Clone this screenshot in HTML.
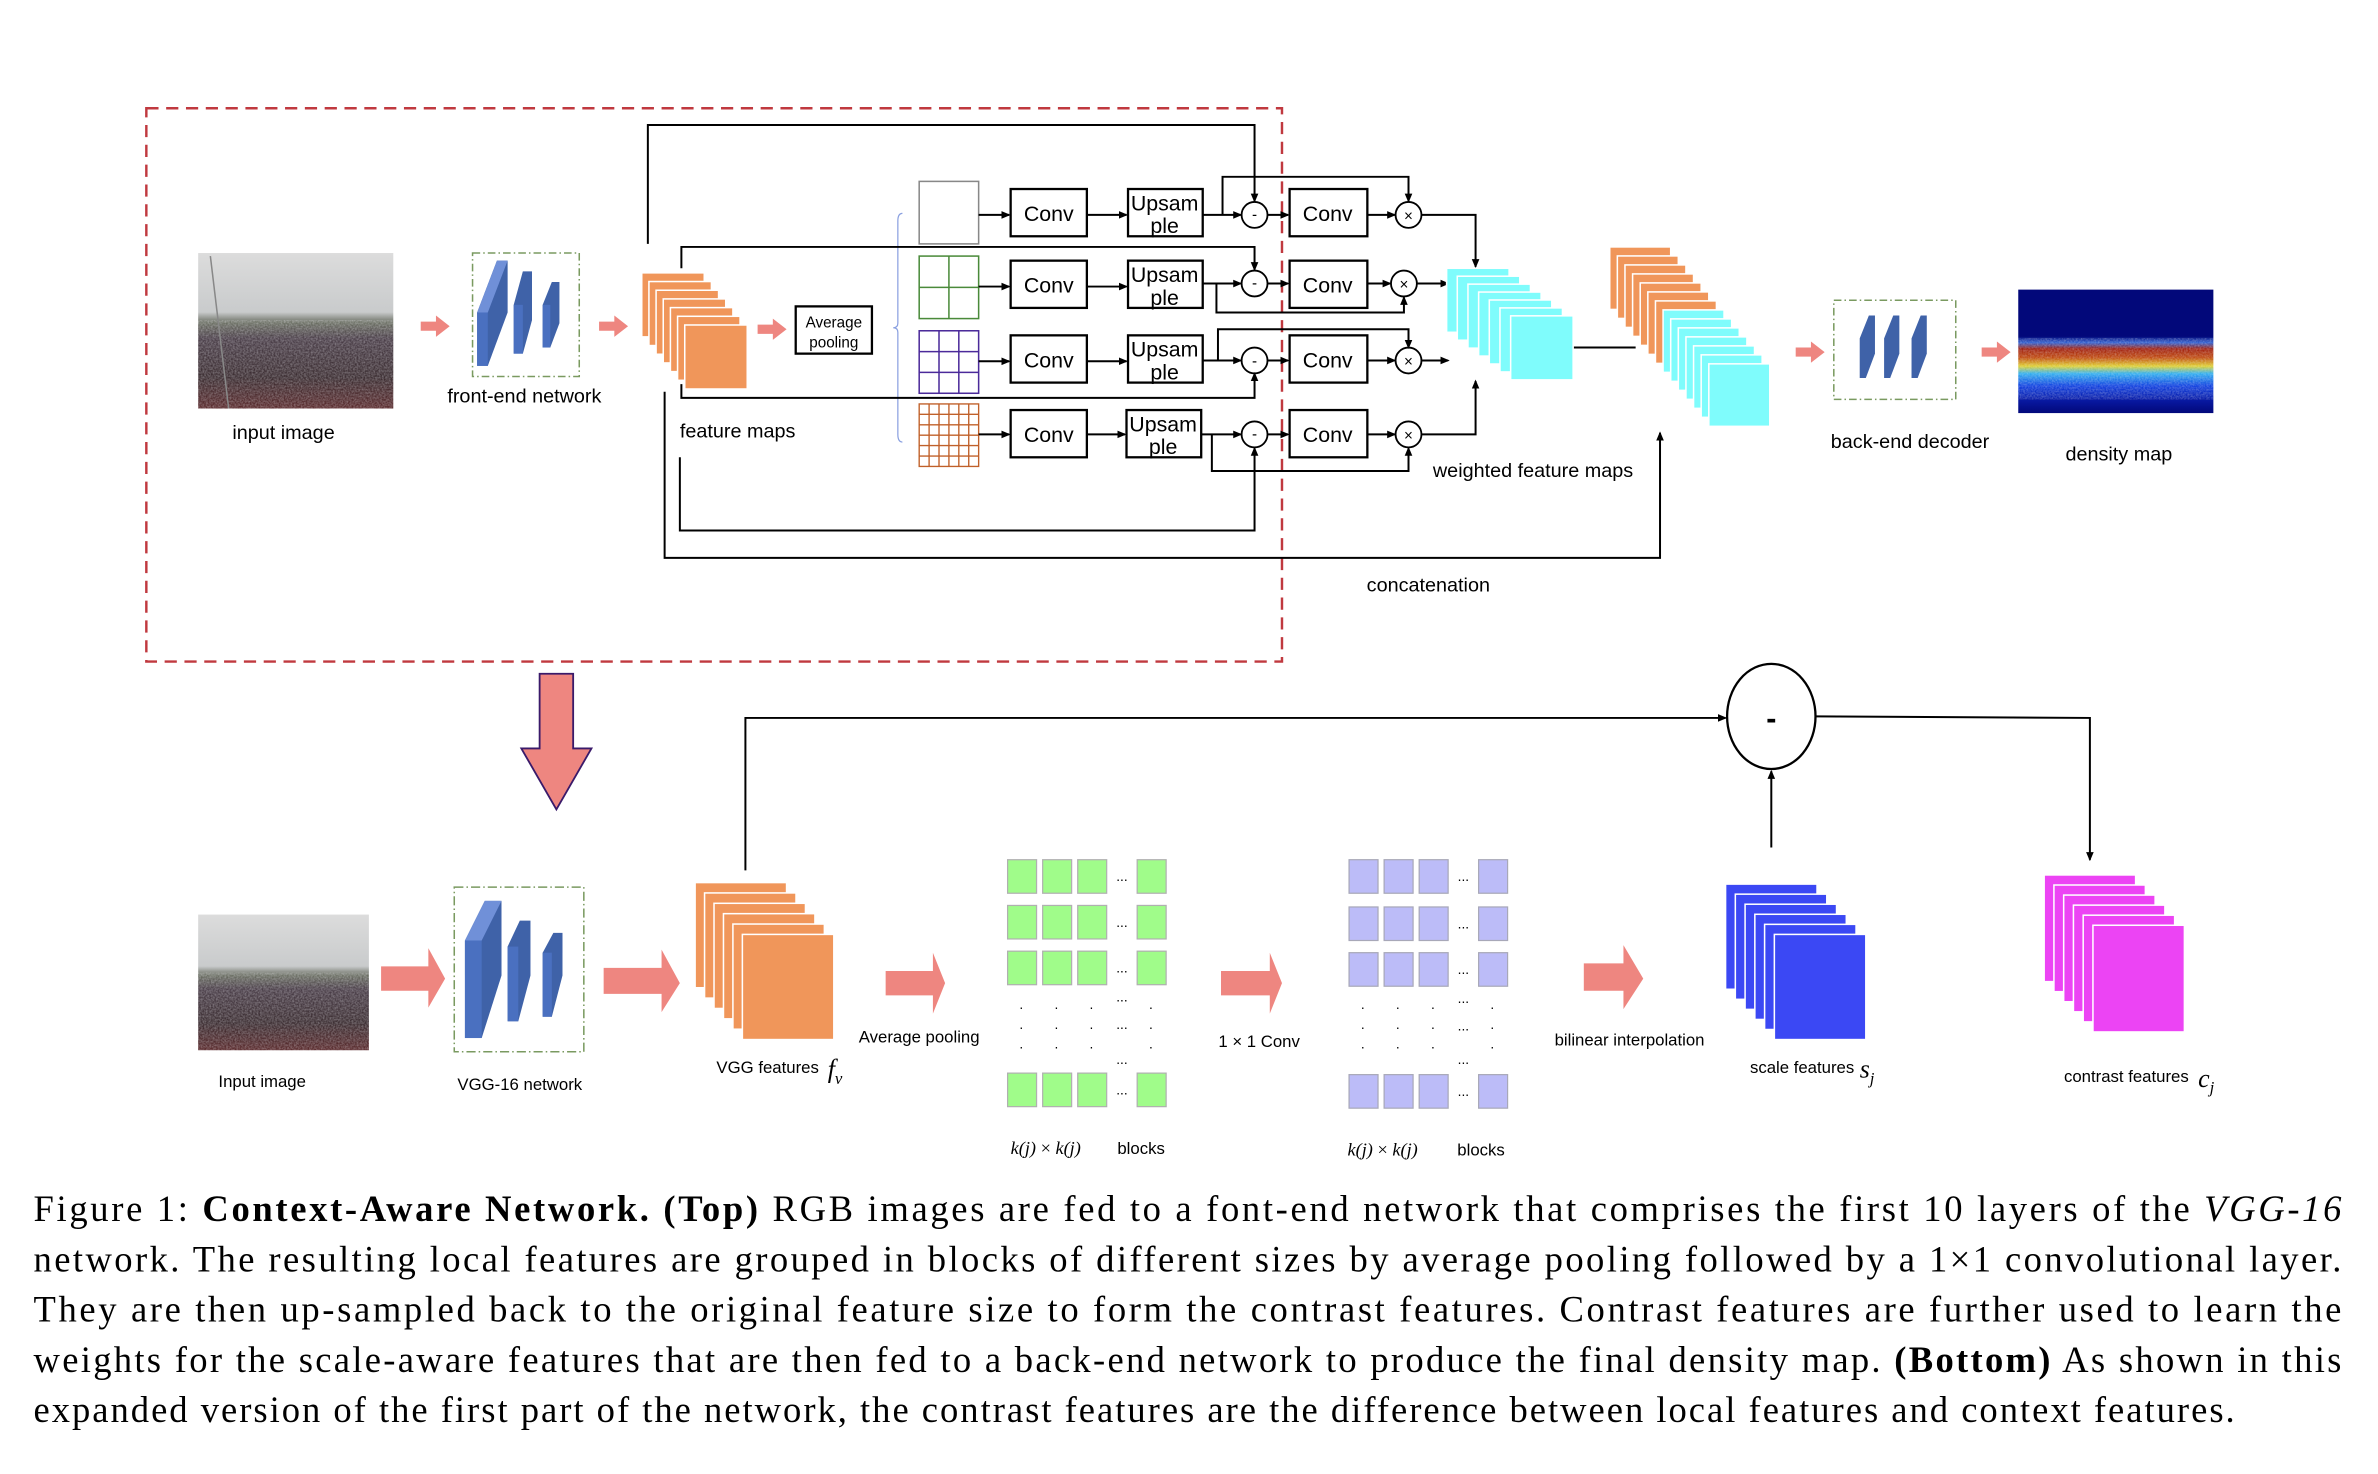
<!DOCTYPE html>
<html><head><meta charset="utf-8"><style>html,body{margin:0;padding:0;background:#fff}svg{display:block}</style></head>
<body>
<svg width="2378" height="1474" viewBox="0 0 1560 967" preserveAspectRatio="none" xmlns="http://www.w3.org/2000/svg" font-family="Liberation Sans, sans-serif">
<defs>
<marker id="ah" markerWidth="6" markerHeight="6" refX="5" refY="3" orient="auto" markerUnits="userSpaceOnUse"><path d="M0,0.5 L6,3 L0,5.5 z" fill="#000"/></marker>
<linearGradient id="crowd" x1="0" y1="0" x2="0" y2="1">
<stop offset="0" stop-color="#dcdcdc"/><stop offset="0.38" stop-color="#c9cbcc"/><stop offset="0.45" stop-color="#6a6e62"/><stop offset="0.55" stop-color="#4a3e48"/><stop offset="0.8" stop-color="#3b2d31"/><stop offset="1" stop-color="#5a2a2c"/></linearGradient>
<linearGradient id="dens" x1="0" y1="0" x2="0" y2="1">
<stop offset="0" stop-color="#02087a"/><stop offset="0.38" stop-color="#02087a"/><stop offset="0.43" stop-color="#3060d0"/><stop offset="0.48" stop-color="#a02010"/><stop offset="0.55" stop-color="#c04a10"/><stop offset="0.62" stop-color="#e0d030"/><stop offset="0.68" stop-color="#30b0f0"/><stop offset="0.78" stop-color="#1040e0"/><stop offset="0.9" stop-color="#0818a0"/><stop offset="1" stop-color="#02087a"/></linearGradient>
<filter id="noise" x="0" y="0" width="1" height="1"><feTurbulence type="fractalNoise" baseFrequency="0.9" numOctaves="2" seed="3"/><feColorMatrix type="matrix" values="0 0 0 0 0.9  0 0 0 0 0.9  0 0 0 0 0.95  0 0 0 -1.6 1.2"/></filter>
</defs>

<rect x="96" y="71" width="745" height="363" fill="none" stroke="#c0393f" stroke-width="1.6" stroke-dasharray="8,5"/>

<rect x="130" y="166" width="128" height="102" fill="url(#crowd)"/>
<rect x="130" y="210" width="128" height="58" filter="url(#noise)" opacity="0.35"/>
<line x1="138" y1="168" x2="150" y2="268" stroke="#888" stroke-width="1"/>
<text x="186" y="288" font-size="13" text-anchor="middle">input image</text>

<g fill="#ee8680">
<path d="M276,211 L286,211 L286,207 L295,214 L286,221 L286,217 L276,217z"/>
<path d="M393,211 L403,211 L403,207 L412,214 L403,221 L403,217 L393,217z"/>
<path d="M497,213 L507,213 L507,209 L516,216 L507,223 L507,219 L497,219z"/>
<path d="M1178,228 L1188,228 L1188,224 L1197,231 L1188,238 L1188,234 L1178,234z"/>
<path d="M1300,228 L1310,228 L1310,224 L1319,231 L1310,238 L1310,234 L1300,234z"/>
</g>

<rect x="310" y="166" width="70" height="81" fill="none" stroke="#7a9a60" stroke-width="1" stroke-dasharray="5,2,1,2"/>
<g>
<polygon points="313,240 320,240 333,205 333,171 326,171 313,205" fill="#3f62a8"/><polygon points="313,205 320,205 333,171 326,171" fill="#7090d8"/><rect x="313" y="205" width="7" height="35" fill="#4a70c0"/>
<polygon points="337,232 343,232 349,210 349,178 343,178 337,200" fill="#3f62a8"/><rect x="337" y="200" width="6" height="32" fill="#4a70c0"/>
<polygon points="356,228 361,228 367,212 367,185 362,185 356,200" fill="#3f62a8"/><rect x="356" y="200" width="5" height="28" fill="#4a70c0"/>
</g>
<text x="344" y="264" font-size="13" text-anchor="middle">front-end network</text>

<g fill="#f0965a" stroke="#fff" stroke-width="1">
<rect x="421" y="179" width="41" height="42"/><rect x="425.7" y="184.7" width="41" height="42"/><rect x="430.4" y="190.4" width="41" height="42"/><rect x="435.1" y="196.1" width="41" height="42"/><rect x="439.8" y="201.8" width="41" height="42"/><rect x="444.5" y="207.5" width="41" height="42"/><rect x="449.2" y="213.2" width="41" height="42"/>
</g>
<text x="446" y="287" font-size="13">feature maps</text>

<rect x="522" y="201" width="50" height="31" fill="#fff" stroke="#000" stroke-width="1.5"/>
<text x="547" y="215" font-size="10" text-anchor="middle">Average</text>
<text x="547" y="228" font-size="10" text-anchor="middle">pooling</text>

<path d="M592,140 Q589,140 589,145 L589,212 Q589,215 586,215 Q589,215 589,218 L589,285 Q589,290 592,290" fill="none" stroke="#8aa0e0" stroke-width="0.8"/>

<rect x="603" y="119" width="39" height="41" fill="#fff" stroke="#888" stroke-width="1"/>
<g fill="none" stroke="#4a8a3a" stroke-width="1"><rect x="603" y="168" width="39" height="41"/><line x1="622.5" y1="168" x2="622.5" y2="209"/><line x1="603" y1="188.5" x2="642" y2="188.5"/></g>
<g fill="none" stroke="#4b2a9a" stroke-width="1"><rect x="603" y="217" width="39" height="41"/><line x1="616" y1="217" x2="616" y2="258"/><line x1="629" y1="217" x2="629" y2="258"/><line x1="603" y1="230.7" x2="642" y2="230.7"/><line x1="603" y1="244.3" x2="642" y2="244.3"/></g>
<g fill="none" stroke="#c0602a" stroke-width="0.9"><rect x="603" y="265" width="39" height="41"/>
<line x1="609.5" y1="265" x2="609.5" y2="306"/><line x1="616" y1="265" x2="616" y2="306"/><line x1="622.5" y1="265" x2="622.5" y2="306"/><line x1="629" y1="265" x2="629" y2="306"/><line x1="635.5" y1="265" x2="635.5" y2="306"/>
<line x1="603" y1="271.8" x2="642" y2="271.8"/><line x1="603" y1="278.7" x2="642" y2="278.7"/><line x1="603" y1="285.5" x2="642" y2="285.5"/><line x1="603" y1="292.3" x2="642" y2="292.3"/><line x1="603" y1="299.2" x2="642" y2="299.2"/></g>

<g fill="#fff" stroke="#000" stroke-width="1.5">
<rect x="663" y="124" width="50" height="31"/><rect x="663" y="171" width="50" height="31"/><rect x="663" y="220" width="50" height="31"/><rect x="663" y="269" width="50" height="31"/>
<rect x="740" y="124" width="49" height="31"/><rect x="740" y="171" width="49" height="31"/><rect x="740" y="220" width="49" height="31"/><rect x="739" y="269" width="49" height="31"/>
<rect x="846" y="124" width="51" height="31"/><rect x="846" y="171" width="51" height="31"/><rect x="846" y="220" width="51" height="31"/><rect x="846" y="269" width="51" height="31"/>
</g>
<g font-size="14" text-anchor="middle">
<text x="688" y="145">Conv</text><text x="688" y="192">Conv</text><text x="688" y="241">Conv</text><text x="688" y="290">Conv</text>
<text x="871" y="145">Conv</text><text x="871" y="192">Conv</text><text x="871" y="241">Conv</text><text x="871" y="290">Conv</text>
<text x="764" y="138">Upsam</text><text x="764" y="153">ple</text>
<text x="764" y="185">Upsam</text><text x="764" y="200">ple</text>
<text x="764" y="234">Upsam</text><text x="764" y="249">ple</text>
<text x="763" y="283">Upsam</text><text x="763" y="298">ple</text>
</g>

<g fill="#fff" stroke="#000" stroke-width="1.2">
<circle cx="823" cy="141" r="8.5"/><circle cx="823" cy="186" r="8.5"/><circle cx="823" cy="236.5" r="8.5"/><circle cx="823" cy="285" r="8.5"/>
<circle cx="924" cy="141" r="8.5"/><circle cx="921" cy="186" r="8.5"/><circle cx="924" cy="236.5" r="8.5"/><circle cx="924" cy="285" r="8.5"/>
</g>
<g font-size="10" text-anchor="middle">
<text x="823" y="144">-</text><text x="823" y="189">-</text><text x="823" y="240">-</text><text x="823" y="288">-</text>
<text x="924" y="145">×</text><text x="921" y="190">×</text><text x="924" y="240.5">×</text><text x="924" y="289">×</text>
</g>

<g fill="none" stroke="#000" stroke-width="1.3">
<line x1="642" y1="141" x2="662" y2="141" marker-end="url(#ah)"/><line x1="642" y1="188" x2="662" y2="188" marker-end="url(#ah)"/><line x1="642" y1="237" x2="662" y2="237" marker-end="url(#ah)"/><line x1="642" y1="285" x2="662" y2="285" marker-end="url(#ah)"/>
<line x1="713" y1="141" x2="739" y2="141" marker-end="url(#ah)"/><line x1="713" y1="188" x2="739" y2="188" marker-end="url(#ah)"/><line x1="713" y1="237" x2="739" y2="237" marker-end="url(#ah)"/><line x1="713" y1="285" x2="738" y2="285" marker-end="url(#ah)"/>
<line x1="789" y1="141" x2="814" y2="141" marker-end="url(#ah)"/><line x1="789" y1="186" x2="814" y2="186" marker-end="url(#ah)"/><line x1="789" y1="236.5" x2="814" y2="236.5" marker-end="url(#ah)"/><line x1="788" y1="285" x2="814" y2="285" marker-end="url(#ah)"/>
<line x1="831.5" y1="141" x2="845" y2="141" marker-end="url(#ah)"/><line x1="831.5" y1="186" x2="845" y2="186" marker-end="url(#ah)"/><line x1="831.5" y1="236.5" x2="845" y2="236.5" marker-end="url(#ah)"/><line x1="831.5" y1="285" x2="845" y2="285" marker-end="url(#ah)"/>
<line x1="897" y1="141" x2="915" y2="141" marker-end="url(#ah)"/><line x1="897" y1="186" x2="912" y2="186" marker-end="url(#ah)"/><line x1="897" y1="236.5" x2="915" y2="236.5" marker-end="url(#ah)"/><line x1="897" y1="285" x2="915" y2="285" marker-end="url(#ah)"/>
<polyline points="802,141 802,116 924,116 924,132" marker-end="url(#ah)"/>
<polyline points="798,186 798,205 921,205 921,195" marker-end="url(#ah)"/>
<polyline points="799,236.5 799,216 924,216 924,228" marker-end="url(#ah)"/>
<polyline points="795,285 795,309 924,309 924,294" marker-end="url(#ah)"/>
<polyline points="425,160 425,82 823,82 823,132" marker-end="url(#ah)"/>
<polyline points="447,176 447,162 823,162 823,177" marker-end="url(#ah)"/>
<polyline points="447,252 447,261 823,261 823,245" marker-end="url(#ah)"/>
<polyline points="446,300 446,348 823,348 823,294" marker-end="url(#ah)"/>
<polyline points="436,257 436,366 1089,366 1089,284" marker-end="url(#ah)"/>
<polyline points="932.5,141 968,141 968,175" marker-end="url(#ah)"/>
<line x1="929.5" y1="186" x2="950" y2="186" marker-end="url(#ah)"/>
<line x1="932.5" y1="236.5" x2="950" y2="236.5" marker-end="url(#ah)"/>
<polyline points="932.5,285 968,285 968,250" marker-end="url(#ah)"/>
<line x1="1032" y1="228" x2="1073" y2="228"/>
</g>

<g fill="#7ffcfc" stroke="#fff" stroke-width="1">
<rect x="949" y="176" width="41" height="42"/><rect x="956" y="181.2" width="41" height="42"/><rect x="963" y="186.4" width="41" height="42"/><rect x="970" y="191.6" width="41" height="42"/><rect x="977" y="196.8" width="41" height="42"/><rect x="984" y="202" width="41" height="42"/><rect x="991" y="207.2" width="41" height="42"/>
</g>
<text x="940" y="313" font-size="13">weighted feature maps</text>

<g stroke="#fff" stroke-width="1">
<g fill="#f0965a"><rect x="1056" y="162" width="40" height="41"/><rect x="1061" y="167.9" width="40" height="41"/><rect x="1066" y="173.8" width="40" height="41"/><rect x="1071" y="179.7" width="40" height="41"/><rect x="1076" y="185.6" width="40" height="41"/><rect x="1081" y="191.5" width="40" height="41"/><rect x="1086" y="197.4" width="40" height="41"/></g>
<g fill="#7ffcfc"><rect x="1091" y="203.3" width="40" height="41"/><rect x="1096" y="209.2" width="40" height="41"/><rect x="1101" y="215.1" width="40" height="41"/><rect x="1106" y="221" width="40" height="41"/><rect x="1111" y="226.9" width="40" height="41"/><rect x="1116" y="232.8" width="40" height="41"/><rect x="1121" y="238.7" width="40" height="41"/></g>
</g>
<text x="937" y="388" font-size="13" text-anchor="middle">concatenation</text>

<rect x="1203" y="197" width="80" height="65" fill="none" stroke="#7a9a60" stroke-width="1" stroke-dasharray="5,2,1,2"/>
<g fill="#3f62a8">
<polygon points="1220,248 1224,248 1230,232 1230,207 1226,207 1220,222"/>
<polygon points="1236,248 1240,248 1246,232 1246,207 1242,207 1236,222"/>
<polygon points="1254,248 1258,248 1264,232 1264,207 1260,207 1254,222"/>
</g>
<text x="1253" y="294" font-size="13" text-anchor="middle">back-end decoder</text>

<rect x="1324" y="190" width="128" height="81" fill="url(#dens)"/>
<rect x="1324" y="222" width="128" height="40" filter="url(#noise)" opacity="0.3"/>
<text x="1390" y="302" font-size="13" text-anchor="middle">density map</text>

<path d="M354,442 L376,442 L376,491 L388,491 L365,531 L342,491 L354,491 Z" fill="#ee8680" stroke="#3a1a6a" stroke-width="1.2"/>

<rect x="130" y="600" width="112" height="89" fill="url(#crowd)"/>
<rect x="130" y="638" width="112" height="51" filter="url(#noise)" opacity="0.35"/>
<text x="172" y="713" font-size="11" text-anchor="middle">Input image</text>

<g fill="#ee8680">
<path d="M250,634 L281,634 L281,622 L292,642 L281,661 L281,650 L250,650z"/>
<path d="M396,635 L434,635 L434,623 L446,645 L434,664 L434,652 L396,652z"/>
<path d="M581,637 L612,637 L612,625 L620,645 L612,665 L612,653 L581,653z"/>
<path d="M801,637 L833,637 L833,625 L841,645 L833,665 L833,653 L801,653z"/>
<path d="M1039,632 L1065,632 L1065,620 L1078,642 L1065,662 L1065,650 L1039,650z"/>
</g>

<rect x="298" y="582" width="85" height="108" fill="none" stroke="#7a9a60" stroke-width="1" stroke-dasharray="6,2,1,2"/>
<g>
<polygon points="305,681 316,681 329,640 329,591 318,591 305,617" fill="#3f62a8"/><polygon points="305,617 316,617 329,591 318,591" fill="#7090d8"/><rect x="305" y="617" width="11" height="64" fill="#4a70c0"/>
<polygon points="333,670 340,670 348,640 348,604 341,604 333,621" fill="#3f62a8"/><rect x="333" y="621" width="7" height="49" fill="#4a70c0"/>
<polygon points="356,667 362,667 369,640 369,612 363,612 356,625" fill="#3f62a8"/><rect x="356" y="625" width="6" height="42" fill="#4a70c0"/>
</g>
<text x="341" y="715" font-size="11" text-anchor="middle">VGG-16 network</text>

<g fill="#f0965a" stroke="#fff" stroke-width="1">
<rect x="456" y="579" width="60" height="69"/><rect x="462.2" y="585.8" width="60" height="69"/><rect x="468.4" y="592.6" width="60" height="69"/><rect x="474.6" y="599.4" width="60" height="69"/><rect x="480.8" y="606.2" width="60" height="69"/><rect x="487" y="613" width="60" height="69"/>
</g>
<text x="470" y="704" font-size="11">VGG features</text>
<text x="543" y="707" font-size="17" font-style="italic" font-family="Liberation Serif, serif">f<tspan font-size="11" dy="4">v</tspan></text>
<text x="603" y="684" font-size="11" text-anchor="middle">Average pooling</text>

<g fill="#a0fc8a" stroke="#b0b0b0" stroke-width="0.8">
<rect x="661" y="564" width="19" height="22"/><rect x="684" y="564" width="19" height="22"/><rect x="707" y="564" width="19" height="22"/><rect x="746" y="564" width="19" height="22"/>
<rect x="661" y="594" width="19" height="22"/><rect x="684" y="594" width="19" height="22"/><rect x="707" y="594" width="19" height="22"/><rect x="746" y="594" width="19" height="22"/>
<rect x="661" y="624" width="19" height="22"/><rect x="684" y="624" width="19" height="22"/><rect x="707" y="624" width="19" height="22"/><rect x="746" y="624" width="19" height="22"/>
<rect x="661" y="704" width="19" height="22"/><rect x="684" y="704" width="19" height="22"/><rect x="707" y="704" width="19" height="22"/><rect x="746" y="704" width="19" height="22"/>
</g>
<g font-size="9" text-anchor="middle">
<text x="736" y="578">...</text><text x="736" y="608">...</text><text x="736" y="638">...</text><text x="736" y="718">...</text>
<text x="736" y="657">...</text><text x="736" y="675">...</text><text x="736" y="698">...</text>
<text x="670" y="662">.</text><text x="693" y="662">.</text><text x="716" y="662">.</text><text x="755" y="662">.</text>
<text x="670" y="675">.</text><text x="693" y="675">.</text><text x="716" y="675">.</text><text x="755" y="675">.</text>
<text x="670" y="688">.</text><text x="693" y="688">.</text><text x="716" y="688">.</text><text x="755" y="688">.</text>
</g>
<text x="663" y="757" font-size="12" font-family="Liberation Serif, serif" font-style="italic">k(j) <tspan font-style="normal">×</tspan> k(j)</text>
<text x="733" y="757" font-size="11">blocks</text>

<text x="826" y="687" font-size="11" text-anchor="middle">1 × 1 Conv</text>

<g fill="#bcbcf8" stroke="#a8a8b8" stroke-width="0.8">
<rect x="885" y="564" width="19" height="22"/><rect x="908" y="564" width="19" height="22"/><rect x="931" y="564" width="19" height="22"/><rect x="970" y="564" width="19" height="22"/>
<rect x="885" y="595" width="19" height="22"/><rect x="908" y="595" width="19" height="22"/><rect x="931" y="595" width="19" height="22"/><rect x="970" y="595" width="19" height="22"/>
<rect x="885" y="625" width="19" height="22"/><rect x="908" y="625" width="19" height="22"/><rect x="931" y="625" width="19" height="22"/><rect x="970" y="625" width="19" height="22"/>
<rect x="885" y="705" width="19" height="22"/><rect x="908" y="705" width="19" height="22"/><rect x="931" y="705" width="19" height="22"/><rect x="970" y="705" width="19" height="22"/>
</g>
<g font-size="9" text-anchor="middle">
<text x="960" y="578">...</text><text x="960" y="609">...</text><text x="960" y="639">...</text><text x="960" y="719">...</text>
<text x="960" y="658">...</text><text x="960" y="676">...</text><text x="960" y="698">...</text>
<text x="894" y="662">.</text><text x="917" y="662">.</text><text x="940" y="662">.</text><text x="979" y="662">.</text>
<text x="894" y="675">.</text><text x="917" y="675">.</text><text x="940" y="675">.</text><text x="979" y="675">.</text>
<text x="894" y="688">.</text><text x="917" y="688">.</text><text x="940" y="688">.</text><text x="979" y="688">.</text>
</g>
<text x="884" y="758" font-size="12" font-family="Liberation Serif, serif" font-style="italic">k(j) <tspan font-style="normal">×</tspan> k(j)</text>
<text x="956" y="758" font-size="11">blocks</text>

<text x="1069" y="686" font-size="11" text-anchor="middle">bilinear interpolation</text>

<ellipse cx="1162" cy="470" rx="29" ry="34.5" fill="#fff" stroke="#000" stroke-width="1.5"/>
<text x="1162" y="478" font-size="20" font-weight="bold" text-anchor="middle">-</text>
<g fill="none" stroke="#000" stroke-width="1.3">
<polyline points="489,571 489,471 1132,471" marker-end="url(#ah)"/>
<polyline points="1191,470 1371,471 1371,564" marker-end="url(#ah)"/>
<line x1="1162" y1="556" x2="1162" y2="506" marker-end="url(#ah)"/>
</g>

<g fill="#3b48f4" stroke="#fff" stroke-width="1">
<rect x="1132" y="580" width="60" height="69"/><rect x="1138.4" y="586.6" width="60" height="69"/><rect x="1144.8" y="593.2" width="60" height="69"/><rect x="1151.2" y="599.8" width="60" height="69"/><rect x="1157.6" y="606.4" width="60" height="69"/><rect x="1164" y="613" width="60" height="69"/>
</g>
<text x="1148" y="704" font-size="11">scale features</text>
<text x="1220" y="707" font-size="17" font-style="italic" font-family="Liberation Serif, serif">s<tspan font-size="11" dy="4">j</tspan></text>

<g fill="#ec44f4" stroke="#fff" stroke-width="1">
<rect x="1341" y="574" width="60" height="70"/><rect x="1347.4" y="580.6" width="60" height="70"/><rect x="1353.8" y="587.2" width="60" height="70"/><rect x="1360.2" y="593.8" width="60" height="70"/><rect x="1366.6" y="600.4" width="60" height="70"/><rect x="1373" y="607" width="60" height="70"/>
</g>
<text x="1354" y="710" font-size="11">contrast features</text>
<text x="1442" y="713" font-size="17" font-style="italic" font-family="Liberation Serif, serif">c<tspan font-size="11" dy="4">j</tspan></text>

<g font-family="Liberation Serif, serif" font-size="24">
<text x="22" y="801" textLength="1514" lengthAdjust="spacing">Figure 1: <tspan font-weight="bold">Context-Aware Network. (Top)</tspan> RGB images are fed to a font-end network that comprises the first 10 layers of the <tspan font-style="italic">VGG-16</tspan></text>
<text x="22" y="834" textLength="1514" lengthAdjust="spacing">network. The resulting local features are grouped in blocks of different sizes by average pooling followed by a 1×1 convolutional layer.</text>
<text x="22" y="867" textLength="1514" lengthAdjust="spacing">They are then up-sampled back to the original feature size to form the contrast features. Contrast features are further used to learn the</text>
<text x="22" y="900" textLength="1514" lengthAdjust="spacing">weights for the scale-aware features that are then fed to a back-end network to produce the final density map. <tspan font-weight="bold">(Bottom)</tspan> As shown in this</text>
<text x="22" y="933" textLength="1444" lengthAdjust="spacing">expanded version of the first part of the network, the contrast features are the difference between local features and context features.</text>
</g>
</svg>
</body></html>
